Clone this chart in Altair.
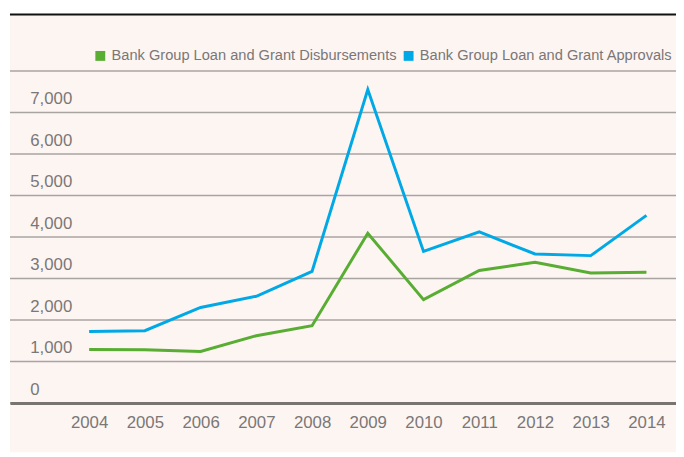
import altair as alt
import pandas as pd

years = list(range(2004, 2015))
disbursements = [1290, 1280, 1240, 1620, 1860, 4090, 2490, 3190, 3390, 3130, 3150]
approvals = [1720, 1740, 2300, 2570, 3170, 7550, 3650, 4120, 3590, 3550, 4520]
series_names = ["Bank Group Loan and Grant Disbursements", "Bank Group Loan and Grant Approvals"]
grid_values = [0, 1000, 2000, 3000, 4000, 5000, 6000, 7000, 8000]

GREEN = "#58ad32"
BLUE = "#00a9e6"
PINK = "#fdf5f2"
TEXT = "#7a7776"
FONT = "Liberation Sans, Arial, sans-serif"

df = pd.DataFrame({
    "year": years * 2,
    "value": disbursements + approvals,
    "series": [series_names[0]] * len(years) + [series_names[1]] * len(years),
})
grid_df = pd.DataFrame({"value": grid_values})

W, H = 674, 336

xscale = alt.Scale(domain=[2002.58, 2014.53], nice=False, zero=False)
yscale = alt.Scale(domain=[0, 8000], nice=False)
cscale = alt.Scale(domain=series_names, range=[GREEN, BLUE])

yaxis = alt.Axis(title=None, values=grid_values, grid=False, ticks=False, tickSize=0,
                 domain=False, labelAlign="left", labelBaseline="middle",
                 labelPadding=-20, labelOffset=-14, labelFontSize=17,
                 labelColor=TEXT, labelFont=FONT, labelFlush=False,
                 labelOverlap=False, zindex=1,
                 labelExpr="datum.value >= 8000 ? '' : format(datum.value, ',')")
xaxis = alt.Axis(title=None, values=years, format="d", grid=False, ticks=False,
                 domain=True, domainColor="#777472", domainWidth=3,
                 labelPadding=12, labelFontSize=17, labelColor=TEXT,
                 labelFont=FONT, labelFlush=False, zindex=1)
legend = alt.Legend(title=None, orient="none", legendX=84, legendY=-23,
                    direction="horizontal", symbolType="square",
                    symbolSize=100, symbolStrokeWidth=0, symbolOpacity=1,
                    labelFontSize=14.8, labelColor=TEXT, labelFont=FONT,
                    columnPadding=4, labelOffset=4, labelLimit=400)

bg = alt.Chart(alt.Data(values=[{}])).mark_rect(color=PINK).encode(
    x=alt.value(0), x2=alt.value(W), y=alt.value(-57), y2=alt.value(386)
)
topline = alt.Chart(alt.Data(values=[{}])).mark_rule(color="#111", strokeWidth=2).encode(
    x=alt.value(0), x2=alt.value(W), y=alt.value(-57)
)
grid = alt.Chart(grid_df).mark_rule(color="#a8a4a2", strokeWidth=1.5).encode(
    y=alt.Y("value:Q", scale=yscale, axis=yaxis)
)

lines = alt.Chart(df).mark_line(strokeWidth=3).encode(
    x=alt.X("year:Q", scale=xscale, axis=xaxis),
    y=alt.Y("value:Q", scale=yscale, axis=yaxis),
    color=alt.Color("series:N", sort=series_names, scale=cscale, legend=legend),
    detail="series:N",
)

legend_pts = alt.Chart(df).mark_point(filled=True, size=0, shape="square").encode(
    x=alt.X("year:Q", scale=xscale, axis=xaxis),
    y=alt.Y("value:Q", scale=yscale, axis=yaxis),
    color=alt.Color("series:N", sort=series_names, scale=cscale, legend=legend),
)

chart = alt.layer(bg, topline, grid, lines, legend_pts).properties(
    width=W, height=H,
    padding={"left": 2, "top": 61, "right": 0, "bottom": 50},
    autosize=alt.AutoSizeParams(type="none"),
    background="white",
).configure_view(stroke=None)

chart.save("out.html", embed_options={"renderer": "svg", "actions": False})
